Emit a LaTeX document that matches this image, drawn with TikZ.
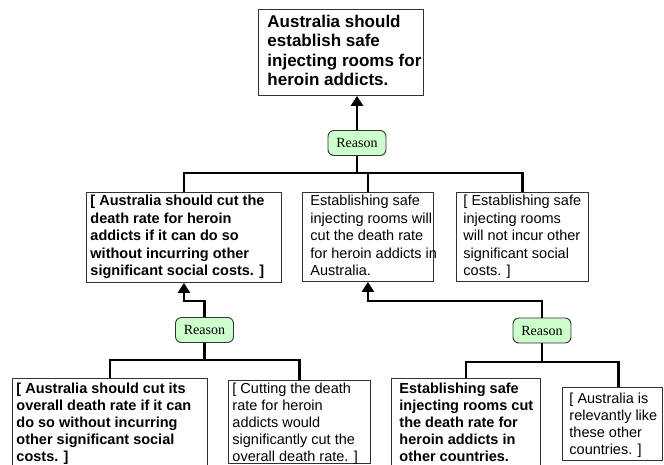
\documentclass[tikz,border=0pt]{standalone}
\usepackage{fontspec}
\setmainfont{Liberation Sans}
\newfontfamily\reasonfont{Liberation Serif}
\usetikzlibrary{arrows.meta}
\definecolor{rfill}{RGB}{204,255,204}
\definecolor{bord}{RGB}{50,50,50}
% \bx{width}{height}{top pad}{left pad}{font}{lines}
\newcommand{\bx}[6]{\parbox[t][#2][t]{#1}{\vspace*{#3}\hspace*{#4}#5\begin{tabular}[t]{@{}l@{}}#6\end{tabular}}}
\newcommand{\bigf}{\fontsize{17}{19.5}\selectfont\bfseries}
\newcommand{\midb}{\fontsize{14.5}{17.5}\selectfont\bfseries}
\newcommand{\midr}{\fontsize{14.5}{17.5}\selectfont}
\newcommand{\lowb}{\fontsize{14.5}{17}\selectfont\bfseries}
\newcommand{\lowr}{\fontsize{14.5}{17}\selectfont}
\begin{document}
\begin{tikzpicture}[x=1pt,y=-1pt,
  claim/.style={draw=bord,line width=0.9pt,fill=white,inner sep=0pt,anchor=north west},
  reason/.style={draw=bord,line width=0.9pt,fill=rfill,rounded corners=6pt,
    minimum width=58pt,minimum height=25pt,inner sep=0pt,font=\reasonfont\fontsize{14}{16}\selectfont},
  link/.style={line width=2.6pt},
  arr/.style={line width=2.6pt,-{Triangle[width=12pt,length=10pt]}}]
\clip (0,0) rectangle (664,464);
\fill[white] (0,0) rectangle (664,464);

% claims
\node[claim] (T) at (258,9) {\bx{165pt}{86pt}{4.3pt}{9pt}{\bigf}{Australia should\\establish safe\\injecting rooms for\\heroin addicts.}};
\node[claim] (A) at (86,192) {\bx{195pt}{90pt}{0.8pt}{4pt}{\midb}{[ Australia should cut the\\death rate for heroin\\addicts if it can do so\\without incurring other\\significant social costs. ]}};
\node[claim] (B) at (302,192) {\bx{131pt}{89pt}{0.8pt}{8pt}{\midr}{Establishing safe\\injecting rooms will\\cut the death rate\\for heroin addicts in\\Australia.}};
\node[claim] (C) at (456,192) {\bx{132pt}{89pt}{0.8pt}{7pt}{\midr}{[ Establishing safe\\injecting rooms\\will not incur other\\significant social\\costs. ]}};
\node[claim] (D) at (12,378) {\bx{195pt}{95pt}{3pt}{4pt}{\lowb}{[ Australia should cut its\\overall death rate if it can\\do so without incurring\\other significant social\\costs. ]}};
\node[claim] (E) at (228,380) {\bx{142pt}{83pt}{1pt}{4pt}{\lowr}{[ Cutting the death\\rate for heroin\\addicts would\\significantly cut the\\overall death rate. ]}};
\node[claim] (F) at (391,378) {\bx{149pt}{95pt}{3pt}{8pt}{\lowb}{Establishing safe\\injecting rooms cut\\the death rate for\\heroin addicts in\\other countries.}};
\node[claim] (G) at (562,387) {\bx{100pt}{73pt}{4pt}{7pt}{\lowr}{[ Australia is\\relevantly like\\these other\\countries. ]}};

% reasons
\node[reason] (R1) at (357,143) {Reason};
\node[reason] (R2) at (204.5,330) {Reason};
\node[reason] (R3) at (542,330.5) {Reason};

% bar coordinates
\coordinate (b1) at (0,173);
\coordinate (b2) at (0,360);
\coordinate (b3) at (0,362);

% top group
\draw[arr] (R1.north) -- (R1.north |- T.south);
\draw[link] (A.north) -- (A.north |- b1) -- (C.north |- b1) -- (C.north);
\draw[link] (B.north) -- (B.north |- b1);
\draw[link] (R1.south) -- (R1.south |- b1);

% left group
\draw[arr] (R2.north) |- ([yshift=-18pt]A.south) -- (A.south);
\draw[link] (D.north) -- (D.north |- b2) -- (E.north |- b2) -- (E.north);
\draw[link] (R2.south) -- (R2.south |- b2);

% right group
\draw[arr] (R3.north) |- ([yshift=-19pt]B.south) -- (B.south);
\draw[link] (F.north) -- (F.north |- b3) -- ([xshift=6pt]G.north |- b3) -- ([xshift=6pt]G.north);
\draw[link] (R3.south) -- (R3.south |- b3);
\end{tikzpicture}
\end{document}
